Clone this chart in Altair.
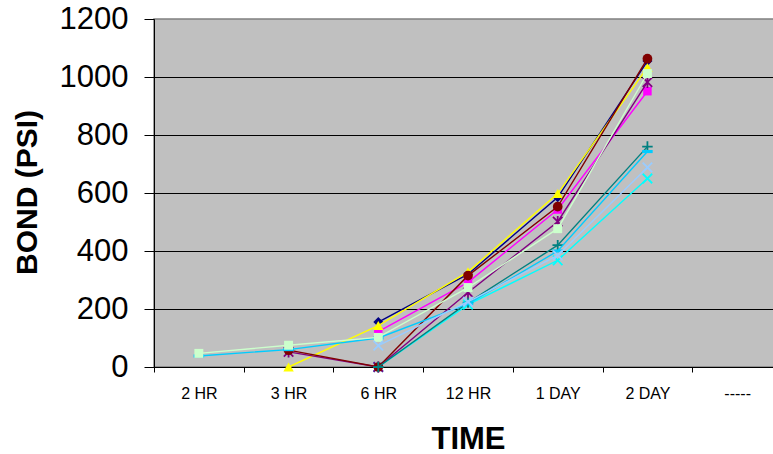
import altair as alt
import pandas as pd

# Curing times along the x axis
times = ["2 HR", "3 HR", "6 HR", "12 HR", "1 DAY", "2 DAY", "-----"]

# Bond strength (psi) per adhesive series; None where no reading was taken
s1 = [None, None, 155, 320, 585, 1055, None]
s2 = [None, None, 122, 292, 543, 951, None]
s3 = [None, 0, 143, 328, 598, 1033, None]
s4 = [None, None, 0, 215, 368, 650, None]
s5 = [None, 52, 0, 257, 501, 982, None]
s6 = [None, 58, 0, 315, 553, 1063, None]
s7 = [None, None, 0, 222, 420, 760, None]
s9 = [38, 60, 100, 218, 400, 743, None]
s11 = [47, 75, 102, 274, 477, 1012, None]
s13 = [None, None, 74, 225, 385, 688, None]

series_values = {
    "S1": s1, "S2": s2, "S3": s3, "S4": s4, "S5": s5,
    "S6": s6, "S7": s7, "S9": s9, "S11": s11, "S13": s13,
}

rows = []
for name, vals in series_values.items():
    for t, v in zip(times, vals):
        if v is not None:
            rows.append({"time": t, "series": name, "bond": v})
df = pd.DataFrame(rows)

X_PATH = "M-1,-1L1,1M-1,1L1,-1"
STAR_PATH = "M-1,-1L1,1M-1,1L1,-1M0,-1.2L0,1.2"
PLUS_PATH = "M-1,0L1,0M0,-1L0,1"
DASH_PATH = "M-1,-0.3L1,-0.3L1,0.3L-1,0.3Z"

# name, colour, marker shape, filled marker, marker size
styles = [
    ("S1", "#000080", "diamond", True, 100),
    ("S2", "#FF00FF", "square", True, 72),
    ("S3", "#FFFF00", "triangle-up", True, 110),
    ("S4", "#00FFFF", X_PATH, False, 90),
    ("S5", "#800080", STAR_PATH, False, 90),
    ("S6", "#800000", "circle", True, 95),
    ("S7", "#008080", PLUS_PATH, False, 110),
    ("S9", "#00CCFF", DASH_PATH, True, 110),
    ("S11", "#CCFFCC", "square", True, 80),
    ("S13", "#99CCFF", X_PATH, False, 90),
]

FONT = "Liberation Sans"

x_enc = alt.X(
    "time:N",
    sort=times,
    bandPosition=0.5,
    scale=alt.Scale(type="band", domain=times, paddingInner=0, paddingOuter=0),
    axis=alt.Axis(
        tickBand="extent",
        tickSize=5,
        tickColor="black",
        domainColor="black",
        labelFont=FONT,
        labelFontSize=16,
        labelColor="black",
        labelPadding=13,
        labelAngle=0,
        grid=False,
        title="TIME",
        titleFont=FONT,
        titleFontSize=31,
        titleFontWeight="bold",
        titleColor="black",
        titleY=81,
        titleBaseline="alphabetic",
    ),
)

y_enc = alt.Y(
    "bond:Q",
    scale=alt.Scale(domain=[0, 1200], nice=False, zero=True),
    axis=alt.Axis(
        values=[0, 200, 400, 600, 800, 1000, 1200],
        format="d",
        tickSize=10,
        tickColor="black",
        domainColor="black",
        labelFont=FONT,
        labelFontSize=31,
        labelColor="black",
        labelPadding=16,
        grid=True,
        gridColor="black",
        gridWidth=1,
        gridOpacity={"condition": {"test": "datum.value >= 1200", "value": 0}, "value": 1},
        title="BOND (PSI)",
        titleFont=FONT,
        titleFontSize=30,
        titleFontWeight="bold",
        titleColor="black",
        titleAngle=270,
        titleAlign="center",
        titleBaseline="middle",
        titleX=-127,
        titleY=173,
    ),
)

base = alt.Chart(df)
layers = []
for name, color, shape, filled, size in styles:
    sub = base.transform_filter(alt.datum.series == name)
    line = sub.mark_line(color=color, strokeWidth=1.4).encode(x=x_enc, y=y_enc)
    if filled:
        pts = sub.mark_point(shape=shape, filled=True, fill=color, size=size, opacity=1)
    else:
        pts = sub.mark_point(shape=shape, filled=False, stroke=color, strokeWidth=1.8,
                             size=size, opacity=1)
    layers += [line, pts.encode(x=x_enc, y=y_enc)]

chart = (
    alt.layer(*layers)
    .properties(
        width=628,
        height=348,
        autosize=alt.AutoSizeParams(type="none"),
        padding={"left": 154, "top": 19, "right": -9, "bottom": 87},
        background="white",
    )
    .configure_view(fill="#C0C0C0", stroke="#808080", strokeWidth=1.5)
)

chart.save("out.html", embed_options={"renderer": "svg", "actions": False})
